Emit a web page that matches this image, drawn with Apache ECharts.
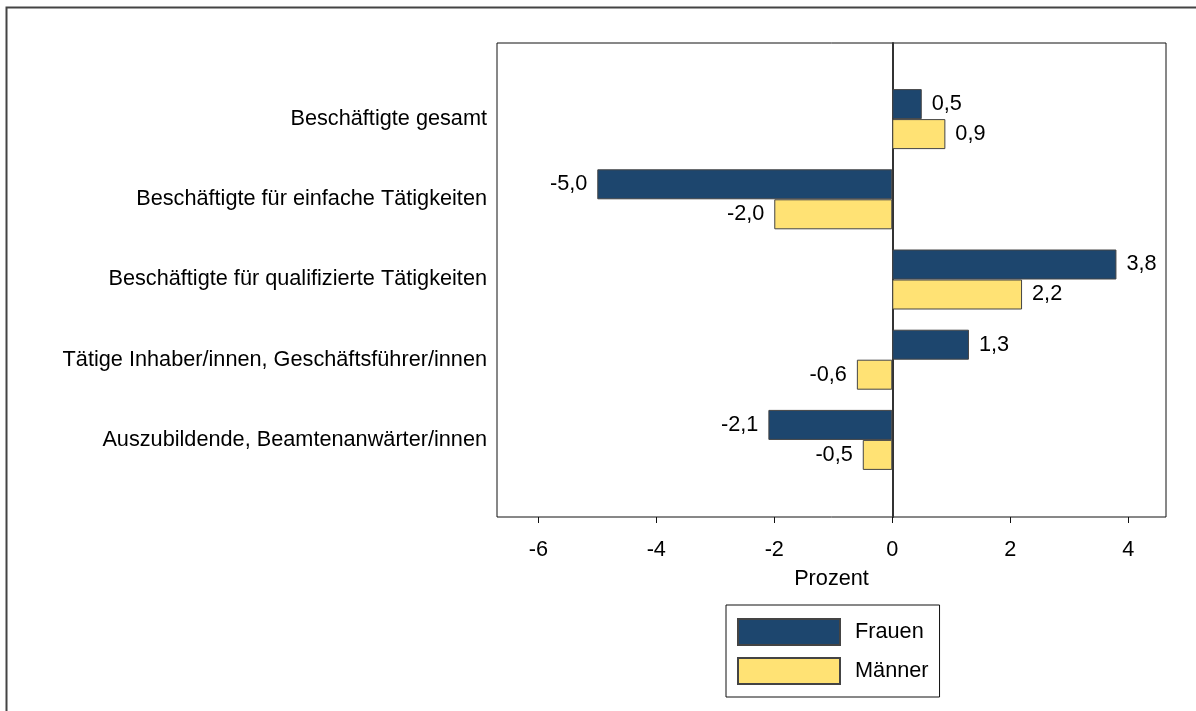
<!DOCTYPE html>
<html>
<head>
<meta charset="utf-8">
<script src="https://cdn.jsdelivr.net/npm/echarts@6/dist/echarts.min.js"></script>
<style>html,body{margin:0;padding:0;background:#fff}#c{width:1196px;height:711px}</style>
</head>
<body>
<div id="c"></div>
<script>
const categories = [
  'Beschäftigte gesamt',
  'Beschäftigte für einfache Tätigkeiten',
  'Beschäftigte für qualifizierte Tätigkeiten',
  'Tätige Inhaber/innen, Geschäftsführer/innen',
  'Auszubildende, Beamtenanwärter/innen'
];
const frauen = [0.5, -5.0, 3.8, 1.3, -2.1];
const maenner = [0.9, -2.0, 2.2, -0.6, -0.5];
const tickValues = [-6, -4, -2, 0, 2, 4];
const seriesNames = ['Frauen', 'Männer'];

const FONT = 'Liberation Sans, Arial, sans-serif';
const FS = 21.7;
const fmt = v => v.toFixed(1).replace('.', ',');
const toData = arr => arr.map(v => ({
  value: v,
  label: { position: v < 0 ? 'left' : 'right' }
}));

const chart = echarts.init(document.getElementById('c'), null, { renderer: 'canvas' });
chart.setOption({
  animation: false,
  backgroundColor: '#fff',
  textStyle: { fontFamily: FONT },
  graphic: [{
    type: 'rect',
    shape: { x: 6.5, y: 7.5, width: 1300, height: 800 },
    style: { fill: 'none', stroke: '#444', lineWidth: 2 },
    silent: true
  }],
  grid: [
    { left: 497, right: 30, top: 43, bottom: 194, show: true, borderColor: '#111', borderWidth: 1, backgroundColor: 'transparent' },
    { left: 497, right: 30, top: 79, bottom: 231 }
  ],
  xAxis: [
    {
      gridIndex: 0, type: 'value', min: -6.7, max: 4.64,
      axisLine: { show: false },
      splitLine: { show: false },
      axisTick: { show: true, customValues: tickValues, length: 6, lineStyle: { color: '#111' } },
      axisLabel: { customValues: tickValues, margin: 22, fontSize: FS, color: '#000', fontFamily: FONT,
        formatter: v => String(v) },
      name: 'Prozent', nameLocation: 'middle', nameGap: 51,
      nameTextStyle: { fontSize: FS, color: '#000', fontFamily: FONT }
    },
    { gridIndex: 1, type: 'value', min: -6.7, max: 4.64, show: false, splitLine: { show: false } }
  ],
  yAxis: [
    {
      gridIndex: 0, type: 'value', min: 0, max: 1,
      axisLine: { show: true, onZero: true, lineStyle: { color: '#333', width: 2 } },
      axisTick: { show: false }, axisLabel: { show: false }, splitLine: { show: false }
    },
    {
      gridIndex: 1, type: 'category', data: categories, inverse: true,
      axisLine: { show: false }, axisTick: { show: false }, splitLine: { show: false },
      axisLabel: { margin: 10, fontSize: FS, color: '#000', fontFamily: FONT, padding: [10, 0, 0, 0] }
    }
  ],
  legend: {
    data: seriesNames,
    orient: 'vertical', left: 726, top: 605,
    padding: [13, 11, 12, 11],
    itemWidth: 102, itemHeight: 26, itemGap: 11,
    borderColor: '#111', borderWidth: 1,
    icon: 'rect',
    textStyle: { fontSize: FS, color: '#000', fontFamily: FONT, padding: [0, 0, 0, 10] }
  },
  series: [
    {
      name: seriesNames[0], type: 'bar', xAxisIndex: 1, yAxisIndex: 1,
      data: toData(frauen), barWidth: 30, barGap: '0%',
      itemStyle: { color: '#1d466e', borderColor: '#444', borderWidth: 1 },
      label: { show: true, distance: 10, fontSize: FS, color: '#000', fontFamily: FONT,
        formatter: p => fmt(p.value) }
    },
    {
      name: seriesNames[1], type: 'bar', xAxisIndex: 1, yAxisIndex: 1,
      data: toData(maenner), barWidth: 30, barGap: '0%',
      itemStyle: { color: '#ffe274', borderColor: '#444', borderWidth: 1 },
      label: { show: true, distance: 10, fontSize: FS, color: '#000', fontFamily: FONT,
        formatter: p => fmt(p.value) }
    }
  ]
});
</script>
</body>
</html>
